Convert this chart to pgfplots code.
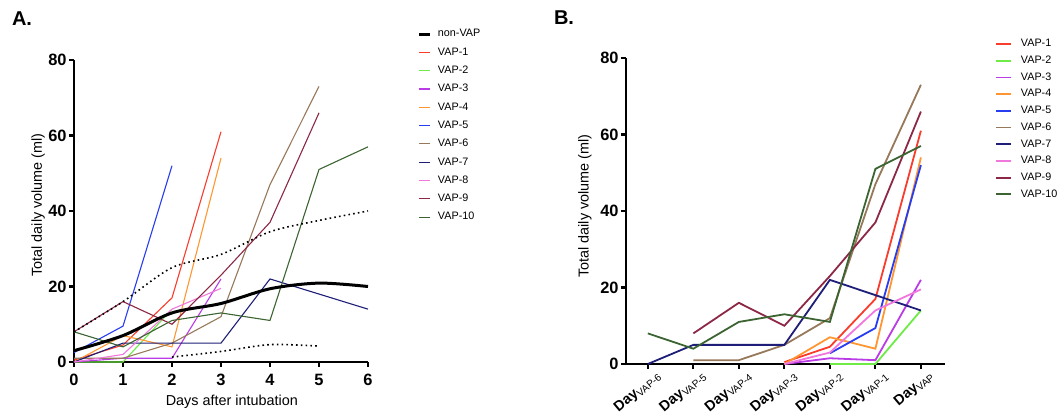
\documentclass[border=0pt]{standalone}
\usepackage{fontspec}
\setmainfont{Liberation Sans}
\usepackage{pgfplots}
\pgfplotsset{compat=1.18}
\definecolor{c1}{RGB}{250,60,45}
\definecolor{c2}{RGB}{110,235,70}
\definecolor{c3}{RGB}{185,60,230}
\definecolor{c4}{RGB}{255,150,50}
\definecolor{c5}{RGB}{40,60,240}
\definecolor{c6}{RGB}{150,120,90}
\definecolor{c7}{RGB}{30,30,120}
\definecolor{c8}{RGB}{240,120,220}
\definecolor{c9}{RGB}{140,40,70}
\definecolor{c10}{RGB}{60,100,50}
\pgfplotsset{
  prism/.style={
    scale only axis, clip=false,
    axis x line*=bottom, axis y line*=left,
    axis line style={line width=1.1pt, black},
    tick style={line width=1.1pt, black},
    major tick length=2.5pt, tick align=outside,
    ymin=0, ymax=80, ytick={0,20,40,60,80},
    /pgf/number format/assume math mode=true,
    tick label style={font=\bfseries\fontsize{8.2}{9}\selectfont},
    yticklabel style={inner xsep=1pt},
    label style={font=\fontsize{7.2}{8.5}\selectfont},
    ylabel={Total daily volume (ml)},
    legend cell align=left,
    legend style={draw=none, fill=none, inner sep=0pt, outer sep=0pt,
      font=\fontsize{5.4}{6.4}\selectfont,
      nodes={text height=3.9pt, text depth=1.1pt, inner ysep=1pt, inner xsep=0pt},
      /tikz/every odd column/.append style={column sep=3pt}},
  }
}
\begin{document}
\begin{tikzpicture}[x=1pt,y=1pt]
\useasboundingbox (0,0) rectangle (532,208);
\node[font=\bfseries\fontsize{10}{12}\selectfont] at (11,198.5) {A.};
\node[font=\bfseries\fontsize{10}{12}\selectfont] at (282,199) {B.};

\begin{axis}[prism,
  at={(37pt,27pt)}, anchor=south west, width=147pt, height=151pt,
  xmin=0, xmax=6, xtick={0,1,2,3,4,5,6},
  xlabel={Days after intubation},
  xlabel style={at={(axis description cs:0.537,-0.132)}, anchor=center},
  ylabel style={at={(axis description cs:-0.122,0.52)}, anchor=center},
  legend style={at={(axis description cs:1.17,1.109)}, anchor=north west,
    row sep=2.15pt},
  legend image code/.code={\draw[#1] (0pt,0pt) -- (5.5pt,0pt);},
]
\addlegendimage{black, line width=1.5pt}\addlegendentry{non-VAP}
\addplot[c1, line width=0.55pt] coordinates {(0,0.5)(1,4.5)(2,17)(3,61)};\addlegendentry{VAP-1}
\addplot[c2, line width=0.55pt] coordinates {(0,0)(1,0)(2,14)};\addlegendentry{VAP-2}
\addplot[c3, line width=0.55pt] coordinates {(0,0)(1,1)(2,1)(3,22)};\addlegendentry{VAP-3}
\addplot[c4, line width=0.55pt] coordinates {(0,0)(1,7)(2,4)(3,54)};\addlegendentry{VAP-4}
\addplot[c5, line width=0.55pt] coordinates {(0,2.5)(1,9.5)(2,52)};\addlegendentry{VAP-5}
\addplot[c6, line width=0.55pt] coordinates {(0,1)(1,1)(2,5)(3,12)(4,47)(5,73)};\addlegendentry{VAP-6}
\addplot[c7, line width=0.55pt] coordinates {(0,0)(1,5)(2,5)(3,5)(4,22)(5,18)(6,14)};\addlegendentry{VAP-7}
\addplot[c8, line width=0.55pt] coordinates {(0,0)(1,2)(2,14)(3,19.5)};\addlegendentry{VAP-8}
\addplot[c9, line width=0.55pt] coordinates {(0,8)(1,16)(2,10)(3,23)(4,37)(5,66)};\addlegendentry{VAP-9}
\addplot[c10, line width=0.55pt] coordinates {(0,8)(1,4)(2,11)(3,13)(4,11)(5,51)(6,57)};\addlegendentry{VAP-10}
\addplot[black, line width=1.5pt, smooth, forget plot] coordinates {(0,3)(1,7)(2,13)(3,15.5)(4,19.4)(5,20.9)(6,20)};
\addplot[black, line width=0.8pt, dash pattern=on 0.8pt off 1.6pt, smooth, forget plot] coordinates {(0,8)(1,16)(2,25)(3,28.5)(4,34.5)(5,37.5)(6,40)};
\addplot[black, line width=0.8pt, dash pattern=on 0.8pt off 1.6pt, smooth, forget plot] coordinates {(2,1.3)(3,2.8)(4,4.6)(5,4.2)};
\end{axis}

\begin{axis}[prism,
  at={(313pt,26pt)}, anchor=south west, width=159.5pt, height=153pt,
  xmin=-0.48, xmax=6.53, xtick={0,1,2,3,4,5,6},
  xticklabels={{\textbf{Day}\textsubscript{\mdseries VAP-6}},{\textbf{Day}\textsubscript{\mdseries VAP-5}},{\textbf{Day}\textsubscript{\mdseries VAP-4}},{\textbf{Day}\textsubscript{\mdseries VAP-3}},{\textbf{Day}\textsubscript{\mdseries VAP-2}},{\textbf{Day}\textsubscript{\mdseries VAP-1}},{\textbf{Day}\textsubscript{\mdseries VAP}}},
  xticklabel style={font=\fontsize{7.2}{8}\selectfont, rotate=40, anchor=east, inner sep=1pt, xshift=4pt, yshift=-5.5pt},
  ylabel style={at={(axis description cs:-0.1285,0.516)}, anchor=center},
  legend style={at={(axis description cs:1.157,1.0686)}, anchor=north west,
    row sep=1.35pt, /tikz/every odd column/.append style={column sep=4.5pt}},
  legend image code/.code={\draw[#1] (0pt,0pt) -- (7.5pt,0pt);},
]
\addplot[c1, line width=0.9pt] coordinates {(3,0.5)(4,4.5)(5,17)(6,61)};\addlegendentry{VAP-1}
\addplot[c2, line width=0.9pt] coordinates {(4,0)(5,0)(6,14)};\addlegendentry{VAP-2}
\addplot[c3, line width=0.9pt] coordinates {(3,0)(4,1.5)(5,1)(6,22)};\addlegendentry{VAP-3}
\addplot[c4, line width=0.9pt] coordinates {(3,0)(4,7)(5,4)(6,54)};\addlegendentry{VAP-4}
\addplot[c5, line width=0.9pt] coordinates {(4,2.8)(5,9.4)(6,52)};\addlegendentry{VAP-5}
\addplot[c6, line width=0.9pt] coordinates {(1,1)(2,1)(3,5)(4,12)(5,47)(6,73)};\addlegendentry{VAP-6}
\addplot[c7, line width=0.9pt] coordinates {(0,0)(1,5)(2,5)(3,5)(4,22)(5,18)(6,14)};\addlegendentry{VAP-7}
\addplot[c8, line width=0.9pt] coordinates {(3,0)(4,3)(5,14)(6,19.5)};\addlegendentry{VAP-8}
\addplot[c9, line width=0.9pt] coordinates {(1,8)(2,16)(3,10)(4,23)(5,37)(6,66)};\addlegendentry{VAP-9}
\addplot[c10, line width=0.9pt] coordinates {(0,8)(1,4)(2,11)(3,13)(4,11)(5,51)(6,57)};\addlegendentry{VAP-10}
\end{axis}
\end{tikzpicture}
\end{document}
